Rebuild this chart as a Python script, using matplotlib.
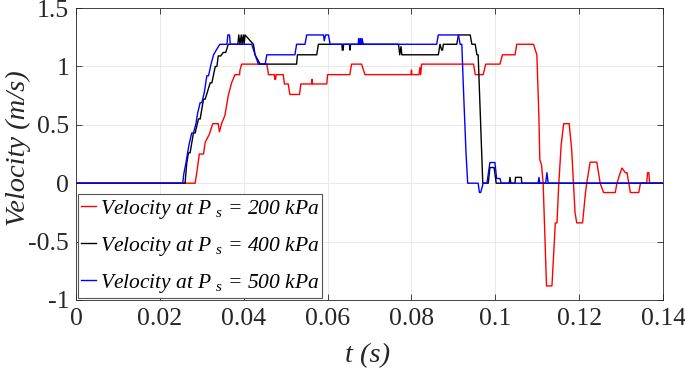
import matplotlib
matplotlib.use("Agg")
import matplotlib.pyplot as plt

plt.rcParams['font.family'] = ['Liberation Serif', 'DejaVu Serif']
plt.rcParams['mathtext.fontset'] = 'custom'
plt.rcParams['mathtext.rm'] = 'Liberation Serif'
plt.rcParams['mathtext.it'] = 'Liberation Serif:italic'

# Velocity at Ps = 200 kPa (red)
t_200 = [0.0, 0.0284, 0.0288, 0.0294, 0.0304, 0.0308, 0.0318, 0.0326, 0.0339, 0.0342, 0.0347, 0.0355,
         0.0363, 0.0371, 0.0379, 0.0390, 0.0391, 0.0395, 0.0455, 0.0459,
         0.0473, 0.0474, 0.0476, 0.0477, 0.0494, 0.0497, 0.0506, 0.0510, 0.0533, 0.0536, 0.0562, 0.0563,
         0.0564, 0.0598, 0.0600, 0.0653, 0.0657, 0.0681, 0.0689, 0.0799, 0.0800, 0.0801, 0.0818, 0.0820,
         0.0822, 0.0824, 0.0948, 0.0952, 0.0971, 0.0977, 0.1011, 0.1017, 0.1047, 0.1051, 0.1091, 0.1099,
         0.1104, 0.1106, 0.1110, 0.1114, 0.1122, 0.1135, 0.1143, 0.1147, 0.1151, 0.1157, 0.1163, 0.1176,
         0.1182, 0.1190, 0.1194, 0.1208, 0.1215, 0.1218, 0.1226, 0.1242, 0.1250, 0.1258, 0.1286, 0.1290,
         0.1298, 0.1302, 0.1310, 0.1314, 0.1322, 0.1342, 0.1346, 0.1361, 0.1363, 0.1366, 0.1368, 0.1400]
v_200 = [0.0, 0.0, 0.09, 0.25, 0.25, 0.35, 0.42, 0.51, 0.51, 0.44, 0.51, 0.58,
         0.75, 0.86, 0.93, 0.93, 0.97, 1.02, 1.02, 0.93,
         0.93, 0.89, 0.89, 0.93, 0.93, 0.85, 0.85, 0.76, 0.76, 0.85, 0.85, 0.89,
         0.85, 0.85, 0.93, 0.93, 1.02, 1.02, 0.93, 0.93, 0.97, 0.93, 0.93, 0.99,
         0.93, 1.02, 1.02, 0.93, 0.93, 1.02, 1.02, 1.10, 1.10, 1.19, 1.19, 1.10,
         0.55, 0.20, 0.16, 0.0, -0.88, -0.88, -0.34, -0.34, -0.02, 0.33, 0.51, 0.51,
         0.29, -0.25, -0.34, -0.34, -0.08, 0.0, 0.18, 0.18, 0.0, -0.08, -0.08, 0.0,
         0.09, 0.13, 0.09, 0.09, -0.08, -0.08, 0.0, 0.0, 0.09, 0.09, 0.0, 0.0]

# Velocity at Ps = 400 kPa (black)
t_400 = [0.0, 0.0260, 0.0264, 0.0268, 0.0272, 0.0280, 0.0284, 0.0292, 0.0296, 0.0304, 0.0308, 0.0320,
         0.0324, 0.0332, 0.0336, 0.0339, 0.0345, 0.0351, 0.0357, 0.0363, 0.0386, 0.0388, 0.0391,
         0.0394, 0.0396, 0.0399, 0.0401, 0.0403, 0.0423, 0.0427, 0.0439, 0.0526, 0.0528, 0.0574, 0.0578,
         0.0634, 0.0635, 0.0637, 0.0638, 0.0652, 0.0653, 0.0655, 0.0769, 0.0772, 0.0775, 0.0777, 0.0780,
         0.0785, 0.0864, 0.0868, 0.0872, 0.0874, 0.0876, 0.0908, 0.0912, 0.0940, 0.0944, 0.0952, 0.0956,
         0.0959, 0.0970, 0.0983, 0.0987, 0.0997, 0.1002, 0.1033, 0.1035, 0.1037, 0.1047, 0.1048, 0.1062,
         0.1063, 0.1400]
v_400 = [0.0, 0.0, 0.17, 0.26, 0.26, 0.43, 0.43, 0.55, 0.55, 0.72, 0.72, 0.86,
         0.86, 1.00, 1.00, 1.09, 1.09, 1.12, 1.12, 1.19, 1.19, 1.27, 1.19,
         1.27, 1.19, 1.27, 1.19, 1.27, 1.19, 1.10, 1.02, 1.02, 1.10, 1.10, 1.19,
         1.19, 1.14, 1.14, 1.19, 1.19, 1.14, 1.19, 1.19, 1.10, 1.17, 1.10, 1.10,
         1.10, 1.10, 1.19, 1.14, 1.14, 1.19, 1.19, 1.27, 1.27, 1.19, 1.19, 1.10,
         1.10, 0.0, 0.0, 0.134, 0.134, 0.0, 0.0, 0.05, 0.0, 0.0, 0.05, 0.05,
         0.0, 0.0]

# Velocity at Ps = 500 kPa (blue)
t_500 = [0.0, 0.02545, 0.0257, 0.0262, 0.0266, 0.0270, 0.0276, 0.0280, 0.0286, 0.0290, 0.0296, 0.0300,
         0.0306, 0.0312, 0.0316, 0.0322, 0.0328, 0.0336, 0.0343, 0.0360, 0.0362, 0.0366, 0.0368, 0.0371,
         0.0419, 0.0427, 0.0435, 0.0451, 0.0455, 0.0522, 0.0526, 0.0546, 0.0550, 0.0590, 0.0592, 0.0595,
         0.0602, 0.0606, 0.0673, 0.0674, 0.0677, 0.0678, 0.0681, 0.0682, 0.0685, 0.0686, 0.0860, 0.0864,
         0.0912, 0.0916, 0.0920, 0.0924, 0.0930, 0.0934, 0.0959, 0.0962, 0.0965, 0.0971, 0.0980, 0.0987,
         0.0999, 0.1003, 0.1011, 0.1014, 0.1102, 0.1104, 0.1106, 0.1120, 0.1123, 0.1126, 0.1400]
v_500 = [0.0, 0.0, 0.08, 0.17, 0.26, 0.34, 0.43, 0.43, 0.51, 0.60, 0.69, 0.69,
         0.78, 0.92, 0.92, 1.02, 1.10, 1.15, 1.19, 1.19, 1.27, 1.27, 1.19, 1.19,
         1.19, 1.10, 1.02, 1.02, 1.10, 1.10, 1.19, 1.19, 1.27, 1.27, 1.22, 1.27,
         1.27, 1.19, 1.19, 1.24, 1.19, 1.24, 1.19, 1.24, 1.19, 1.19, 1.19, 1.27,
         1.27, 1.19, 1.19, 0.80, 0.26, 0.0, 0.0, -0.08, -0.08, 0.0, 0.0, 0.177,
         0.177, 0.04, 0.04, 0.0, 0.0, 0.05, 0.0, 0.0, 0.09, 0.0, 0.0]

labels = ["Velocity at P$\\;_{s}$ = 200 kPa",
          "Velocity at P$\\;_{s}$ = 400 kPa",
          "Velocity at P$\\;_{s}$ = 500 kPa"]
colors = ["#ff0000", "#000000", "#0000ff"]
xticks = [0, 0.02, 0.04, 0.06, 0.08, 0.1, 0.12, 0.14]
xticklabels = ["0", "0.02", "0.04", "0.06", "0.08", "0.1", "0.12", "0.14"]
yticks = [-1, -0.5, 0, 0.5, 1, 1.5]
yticklabels = ["-1", "-0.5", "0", "0.5", "1", "1.5"]

fig = plt.figure(figsize=(6.85, 3.68), dpi=100)
ax = fig.add_axes([0.111, 0.185, 0.857, 0.793])

for t, v, lab, c in zip([t_200, t_400, t_500], [v_200, v_400, v_500], labels, colors):
    ax.plot(t, v, color=c, lw=1.0, label=lab)

ax.set_xlim(0, 0.14)
ax.set_ylim(-1, 1.5)
ax.set_xticks(xticks)
ax.set_xticklabels(xticklabels)
ax.set_yticks(yticks)
ax.set_yticklabels(yticklabels)
ax.tick_params(direction='in', top=True, right=True, labelsize=18.5, length=4, width=0.6,
               colors='#262626', labelcolor='#262626')
ax.tick_params(axis='x', pad=6)
ax.tick_params(axis='y', pad=5)
ax.grid(True, color='#e6e6e6', lw=0.6)
for s in ax.spines.values():
    s.set_color('#262626')
    s.set_linewidth(0.6)

ax.set_xlabel("t (s)", fontsize=20.5, style='italic', color='#262626')
ax.set_ylabel("Velocity (m/s)", fontsize=20.5, style='italic', color='#262626')
ax.xaxis.set_label_coords(0.496, -0.148)
ax.yaxis.set_label_coords(-0.077, 0.52)

leg = ax.legend(loc='lower left', bbox_to_anchor=(0.0, 0.0), handlelength=0.7,
                handletextpad=0.15, borderaxespad=0.1, borderpad=0.15, labelspacing=0.65,
                fancybox=False, framealpha=1, edgecolor='#555555',
                prop={'style': 'italic', 'size': 15.5})
leg.get_frame().set_linewidth(0.8)

fig.savefig("out.png", dpi=100)
